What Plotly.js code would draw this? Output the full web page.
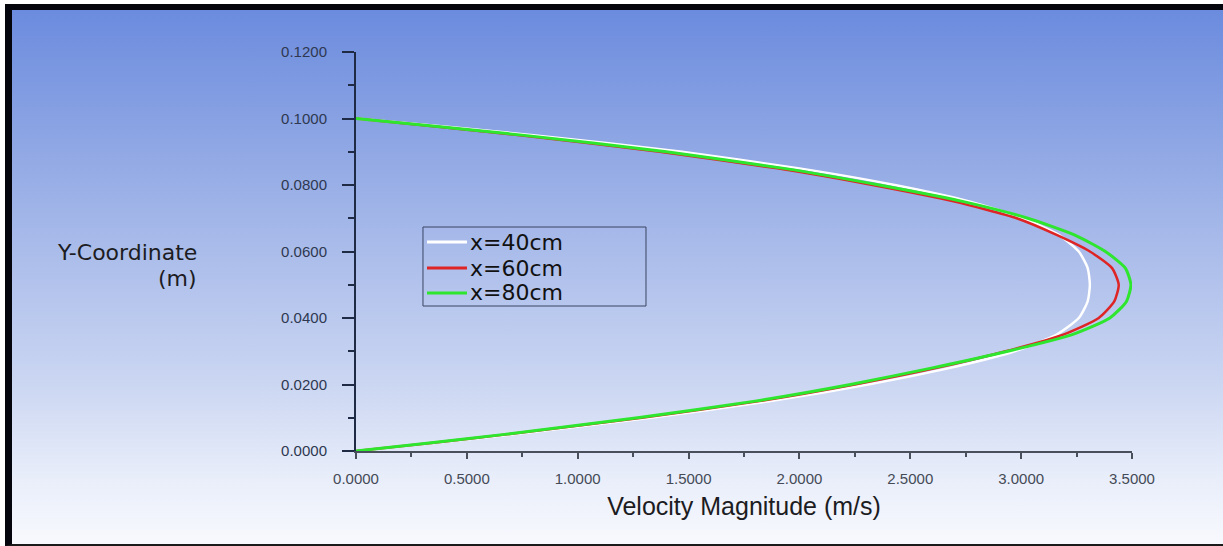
<!DOCTYPE html>
<html>
<head>
<meta charset="utf-8">
<script src="https://cdn.plot.ly/plotly-3.0.1.min.js"></script>
<style>
  html, body { margin: 0; padding: 0; background: #ffffff; width: 1223px; height: 546px; overflow: hidden; }
  #frame {
    position: absolute; left: 5px; top: 4px; width: 1211px; height: 534px;
    border-top: 6px solid #05060d; border-left: 7px solid #05060d; border-bottom: 2px solid #1a1a1a;
    background: linear-gradient(to bottom, #6b8bde 0%, #8aa3e3 22%, #aabcea 45%, #cbd6f2 70%, #e9eefa 88%, #f8f9fe 100%);
  }
  #chart { position: absolute; left: 0; top: 0; width: 1223px; height: 546px; }
</style>
</head>
<body>
<div id="frame"></div>
<div id="chart"></div>
<script>
// Data (Y-coordinate in m, velocity magnitude in m/s)
const yCoord = [0, 0.0025, 0.005, 0.01, 0.015, 0.02, 0.025, 0.03, 0.035, 0.04, 0.045, 0.05,
                0.055, 0.06, 0.065, 0.07, 0.075, 0.08, 0.085, 0.09, 0.095, 0.0975, 0.1];
const vel40 = [0, 0.36, 0.71, 1.33, 1.87, 2.31, 2.68, 2.97, 3.16, 3.26, 3.30, 3.31,
               3.30, 3.26, 3.17, 3.01, 2.77, 2.43, 2.00, 1.47, 0.80, 0.41, 0];
const vel60 = [0, 0.35, 0.68, 1.29, 1.82, 2.25, 2.62, 2.93, 3.19, 3.35, 3.42, 3.44,
               3.41, 3.31, 3.16, 2.98, 2.70, 2.33, 1.90, 1.37, 0.73, 0.37, 0];
const vel80 = [0, 0.34, 0.67, 1.27, 1.80, 2.23, 2.60, 2.94, 3.23, 3.40, 3.475, 3.495,
               3.47, 3.38, 3.24, 3.03, 2.74, 2.36, 1.93, 1.40, 0.75, 0.38, 0];
const seriesNames = ["x=40cm", "x=60cm", "x=80cm"];
const seriesColors = ["#ffffff", "#de2424", "#2ee62e"];
const xTitle = "Velocity Magnitude (m/s)";
const yTitleLines = ["Y-Coordinate", "(m)"];

const sans = "Liberation Sans, Arial, sans-serif";
const wide = "DejaVu Sans, sans-serif";

const seriesVel = [vel40, vel60, vel80];
const widths = [2.5, 2.5, 3];
const traces = seriesVel.map((v, i) => ({
  x: v, y: yCoord, name: seriesNames[i], mode: "lines",
  line: { color: seriesColors[i], width: widths[i], shape: "spline", smoothing: 0.6 }
}));

// Legend drawn as a boxed key in paper coordinates (reference style: tight rows)
const legX0 = 0.0863, legX1 = 0.3737, legY0 = 0.3634, legY1 = 0.5614;
const rowY = [0.5238, 0.4586, 0.3960];
const shapes = [
  { type: "rect", xref: "paper", yref: "paper", x0: legX0, x1: legX1, y0: legY0, y1: legY1,
    line: { color: "#3a4462", width: 1 }, fillcolor: "rgba(0,0,0,0)" }
];
const annotations = [
  { text: yTitleLines[0], xref: "paper", yref: "paper", x: -0.2023, y: 0.497,
    xanchor: "right", yanchor: "middle", showarrow: false,
    font: { family: wide, size: 22, color: "#1c1c22" } },
  { text: yTitleLines[1], xref: "paper", yref: "paper", x: -0.2023, y: 0.432,
    xanchor: "right", yanchor: "middle", showarrow: false,
    font: { family: wide, size: 22, color: "#1c1c22" } }
];
seriesNames.forEach((nm, i) => {
  shapes.push({ type: "line", xref: "paper", yref: "paper", x0: 0.0915, x1: 0.1430, y0: rowY[i], y1: rowY[i],
    line: { color: seriesColors[i], width: 3 } });
  annotations.push({ text: nm, xref: "paper", yref: "paper", x: 0.1455, y: rowY[i],
    xanchor: "left", yanchor: "middle", showarrow: false, borderpad: 0,
    font: { family: wide, size: 22, color: "#111111" } });
});

const layout = {
  width: 1223, height: 546,
  margin: { l: 356, r: 91, t: 52, b: 95 },
  paper_bgcolor: "rgba(0,0,0,0)",
  plot_bgcolor: "rgba(0,0,0,0)",
  font: { family: sans, color: "#3a4050" },
  showlegend: false,
  xaxis: {
    range: [0, 3.5], dtick: 0.5, tick0: 0, tickformat: ".4f",
    showgrid: false, zeroline: false,
    showline: true, linecolor: "#4a4f5c", linewidth: 2,
    ticks: "outside", ticklen: 6, tickwidth: 2, tickcolor: "#4a4f5c",
    minor: { dtick: 0.25, ticks: "outside", ticklen: 4, tickwidth: 2, tickcolor: "#4a4f5c", showgrid: false },
    tickfont: { family: sans, size: 15, color: "#444a56" },
    ticklabelstandoff: 7,
    title: { text: xTitle, font: { family: sans, size: 25, color: "#1c1c22" }, standoff: 11 }
  },
  yaxis: {
    range: [0, 0.12], dtick: 0.02, tick0: 0, tickformat: ".4f",
    showgrid: false, zeroline: false,
    showline: true, linecolor: "#1f2a44", linewidth: 2,
    ticks: "outside", ticklen: 12, tickwidth: 2, tickcolor: "#1f2a44",
    minor: { dtick: 0.01, ticks: "outside", ticklen: 6, tickwidth: 2, tickcolor: "#1f2a44", showgrid: false },
    tickfont: { family: sans, size: 15, color: "#2e3850" },
    ticklabelstandoff: 12
  },
  shapes: shapes,
  annotations: annotations
};

Plotly.newPlot("chart", traces, layout, { displayModeBar: false, staticPlot: true });
</script>
</body>
</html>
